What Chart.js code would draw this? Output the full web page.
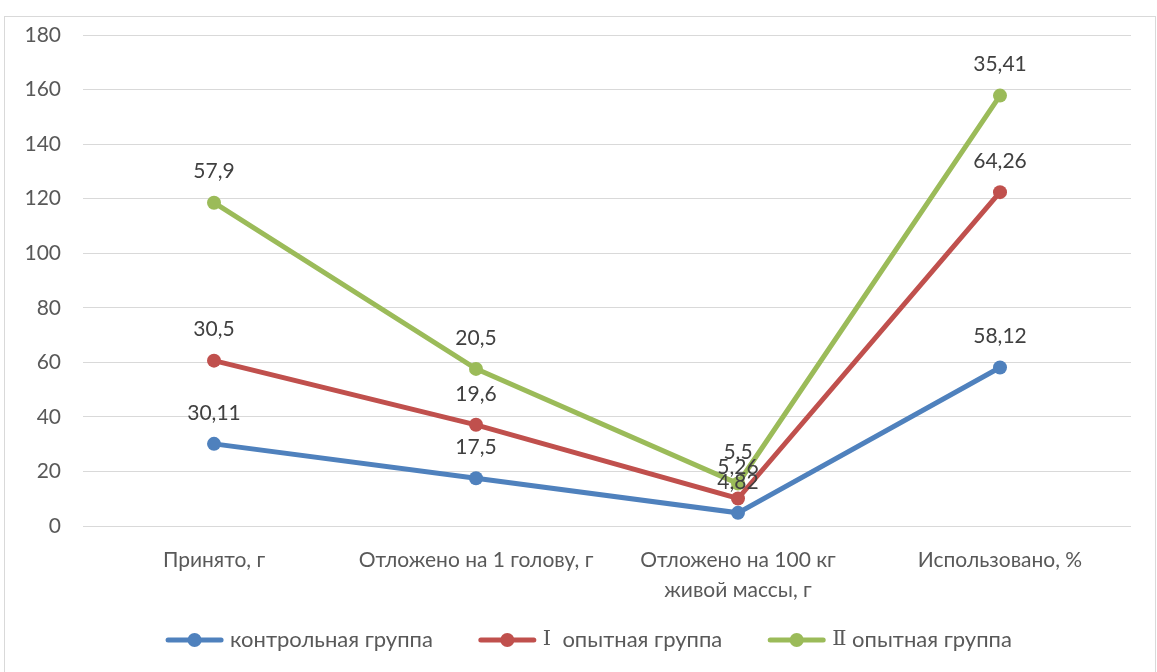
<!DOCTYPE html>
<html lang="ru">
<head>
<meta charset="utf-8">
<title>Баланс</title>
<script src="https://cdn.jsdelivr.net/npm/chart.js@4/dist/chart.umd.min.js"></script>
<style>
  html, body { margin: 0; padding: 0; background: #fff; }
  body { width: 1157px; height: 672px; position: relative; overflow: hidden; }
  #frame {
    position: absolute; left: 4px; top: 16px; width: 1152px; height: 660px;
    border: 1px solid #d9d9d9; box-sizing: border-box; background: #fff;
  }
  #chart { position: absolute; left: 0; top: 0; }
</style>
</head>
<body>
<div id="frame"><canvas id="chart" width="1150" height="658"></canvas></div>
<script>
// Categories and per-group values (stacked on the value axis)
const categories = [
  'Принято, г',
  'Отложено на 1 голову, г',
  ['Отложено на 100 кг', 'живой массы, г'],
  'Использовано, %'
];
const controlGroup = [30.11, 17.5, 4.82, 58.12];
const firstGroup   = [30.5, 19.6, 5.26, 64.26];
const secondGroup  = [57.9, 20.5, 5.5, 35.41];
const seriesNames  = ['контрольная группа', 'Ⅰ  опытная группа', 'Ⅱ опытная группа'];
const yTicks = { min: 0, max: 180, step: 20 };

const colors = ['#4F81BD', '#C0504D', '#9BBB59'];
const FONT = 'Lato, "Liberation Sans", sans-serif';
const NUMERAL_FONT = '"DejaVu Serif", "Liberation Serif", serif';
const TEXT = '#595959';

// Value labels above each point, showing the group's own value
const valueLabels = {
  id: 'valueLabels',
  afterDatasetsDraw(chart) {
    const ctx = chart.ctx;
    ctx.save();
    ctx.font = '21px ' + FONT;
    ctx.fillStyle = '#404040';
    ctx.textAlign = 'center';
    ctx.textBaseline = 'middle';
    chart.data.datasets.forEach((ds, i) => {
      const meta = chart.getDatasetMeta(i);
      meta.data.forEach((pt, j) => {
        const txt = String(ds.data[j]).replace('.', ',');
        ctx.fillText(txt, pt.x, pt.y - 31);
      });
    });
    ctx.restore();
  }
};

// Split a series name into a leading Roman numeral (drawn in a serif face) and the rest
function splitName(name) {
  const m = name.match(/^([\u2160-\u216F]+)(.*)$/);
  return m ? [m[1], m[2]] : ['', name];
}

// Bottom legend: line-with-dot marker followed by the series name
const lineLegend = {
  id: 'lineLegend',
  afterDraw(chart) {
    const ctx = chart.ctx;
    const markerW = 57, gap = 7, itemGap = 46;
    const y = chart.height - 35;
    const textFont = '22px ' + FONT, numFont = '21px ' + NUMERAL_FONT;
    ctx.save();
    ctx.textBaseline = 'middle';
    const items = chart.data.datasets.map(ds => {
      const [num, rest] = splitName(ds.label);
      ctx.font = numFont; const nw = num ? ctx.measureText(num).width : 0;
      ctx.font = textFont; const rw = ctx.measureText(rest).width;
      return { num, rest, nw, color: ds.borderColor, w: markerW + gap + nw + rw };
    });
    const total = items.reduce((s, it) => s + it.w, 0) + itemGap * (items.length - 1);
    let x = (chart.chartArea.left + chart.chartArea.right) / 2 - total / 2 - 18;
    items.forEach(it => {
      ctx.strokeStyle = it.color; ctx.lineWidth = 5; ctx.lineCap = 'round';
      ctx.beginPath(); ctx.moveTo(x + 2, y); ctx.lineTo(x + markerW - 2, y); ctx.stroke();
      ctx.fillStyle = it.color;
      ctx.beginPath(); ctx.arc(x + markerW / 2, y, 7, 0, Math.PI * 2); ctx.fill();
      ctx.fillStyle = TEXT;
      ctx.textAlign = 'left';
      let tx = x + markerW + gap;
      if (it.num) { ctx.font = numFont; ctx.fillText(it.num, tx, y); tx += it.nw; }
      ctx.font = textFont;
      ctx.fillText(it.rest, tx, y);
      x += it.w + itemGap;
    });
    ctx.restore();
  }
};

const sources = [controlGroup, firstGroup, secondGroup];
const datasets = sources.map((d, i) => ({
  label: seriesNames[i],
  data: d,
  borderColor: colors[i],
  backgroundColor: colors[i],
  borderWidth: 5,
  pointRadius: 7,
  pointHoverRadius: 7,
  pointBackgroundColor: colors[i],
  pointBorderWidth: 0,
  pointStyle: 'circle',
  tension: 0,
  fill: false
}));

new Chart(document.getElementById('chart'), {
  type: 'line',
  data: { labels: categories, datasets },
  options: {
    responsive: false,
    animation: false,
    devicePixelRatio: 1,
    layout: { padding: { left: 0, right: 24, top: 18, bottom: 69 } },
    scales: {
      x: {
        offset: true,
        grid: { display: false },
        border: { display: false },
        ticks: { color: TEXT, font: { family: FONT, size: 21, lineHeight: 1.45 }, padding: 11, maxRotation: 0, autoSkip: false },
        afterFit(s) { s.height = 80; }
      },
      y: {
        stacked: true,
        min: yTicks.min, max: yTicks.max,
        ticks: { stepSize: yTicks.step, color: TEXT, font: { family: FONT, size: 21 }, padding: 2 },
        grid: { color: '#d9d9d9', lineWidth: 1, drawTicks: true, tickLength: 20, tickColor: 'rgba(0,0,0,0)' },
        border: { display: false },
        afterFit(s) { s.width = 78; }
      }
    },
    plugins: {
      tooltip: { enabled: false },
      legend: { display: false }
    }
  },
  plugins: [valueLabels, lineLegend]
});
</script>
</body>
</html>
